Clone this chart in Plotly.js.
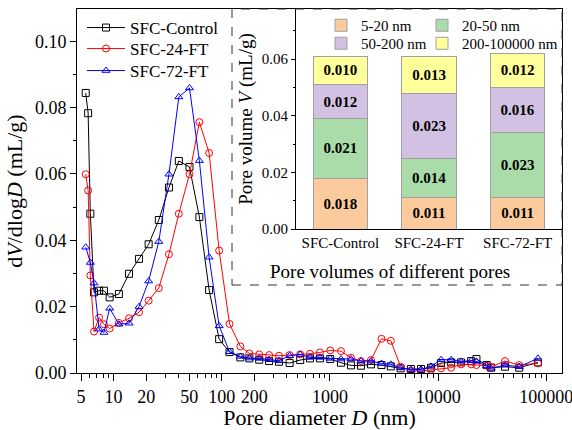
<!DOCTYPE html>
<html>
<head>
<meta charset="utf-8">
<script src="https://cdn.plot.ly/plotly-3.0.1.min.js"></script>
<style>html,body{margin:0;padding:0;background:#fff;}#chart{width:572px;height:430px;}</style>
</head>
<body>
<div id="chart"></div>
<script>
// ---- Pore size distribution (main plot) ----
var D_control = [5.53, 5.82, 6.1, 6.6, 7.35, 8.15, 9.2, 11.2, 13.9, 17.2, 21.1, 26.2, 32.5, 40.1, 50.3, 62.1, 76.4, 94.6,
  118, 148.6, 180, 222, 274, 338, 424, 531, 654, 808, 1006, 1265, 1565, 1936, 2396, 2996, 3654,
  4500, 5600, 6950, 8600, 10650, 13200, 16300, 20200, 22600, 28100, 30900, 41500, 56200, 83700];
var V_control = [0.0844, 0.0783, 0.0480, 0.0243, 0.0248, 0.0248, 0.0228, 0.0238, 0.0299, 0.0344, 0.0388, 0.0461, 0.0559, 0.0639, 0.0621, 0.0470, 0.0250, 0.0102,
  0.0063, 0.0047, 0.0044, 0.0040, 0.0036, 0.0034, 0.0030, 0.0039, 0.0044, 0.0044, 0.0042, 0.0031, 0.0023, 0.0022, 0.0026, 0.0024, 0.0020,
  0.0014, 0.0012, 0.0012, 0.0016, 0.0030, 0.0032, 0.0032, 0.0036, 0.0042, 0.0024, 0.0016, 0.0019, 0.0016, 0.0032];

var D_24 = [5.53, 5.82, 6.1, 6.6, 7.35, 8.15, 9.2, 11.2, 13.9, 17.2, 21.1, 26.2, 32.5, 40.1, 50.3, 62.1, 76.4, 94.6,
  118, 148.6, 180, 222, 274, 338, 424, 531, 654, 808, 1006, 1265, 1565, 1936, 2396, 2996, 3654,
  4500, 5600, 6950, 8600, 10650, 13200, 16300, 20200, 22600, 28100, 30900, 41500, 56200, 83700];
var V_24 = [0.0599, 0.0550, 0.0294, 0.0125, 0.0167, 0.0147, 0.0134, 0.0151, 0.0165, 0.0183, 0.0218, 0.0256, 0.0358, 0.0480, 0.0599, 0.0756, 0.0663, 0.0369,
  0.0148, 0.0080, 0.0059, 0.0056, 0.0054, 0.0052, 0.0054, 0.0056, 0.0058, 0.0062, 0.0068, 0.0066, 0.0046, 0.0036, 0.0039, 0.0103, 0.0097,
  0.0019, 0.0007, 0.0006, 0.0010, 0.0014, 0.0016, 0.0026, 0.0026, 0.0024, 0.0022, 0.0018, 0.0036, 0.0024, 0.0029];

var D_72 = [5.53, 6.1, 6.6, 7.35, 8.15, 9.2, 11.2, 13.9, 17.2, 21.1, 26.2, 32.5, 40.1, 50.3, 62.1, 76.4, 94.6,
  118, 148.6, 180, 222, 274, 338, 424, 531, 654, 808, 1006, 1265, 1565, 1936, 2396, 2996, 3654,
  4500, 5600, 6950, 8600, 10650, 13200, 16300, 20200, 22600, 28100, 30900, 41500, 56200, 83700];
var V_72 = [0.0379, 0.0333, 0.0271, 0.0132, 0.0122, 0.0195, 0.0147, 0.0150, 0.0200, 0.0277, 0.0396, 0.0599, 0.0832, 0.0859, 0.0640, 0.0349, 0.0142,
  0.0064, 0.0050, 0.0045, 0.0044, 0.0040, 0.0037, 0.0052, 0.0056, 0.0047, 0.0047, 0.0044, 0.0042, 0.0042, 0.0036, 0.0036, 0.0029, 0.0026,
  0.0016, 0.0010, 0.0011, 0.0020, 0.0040, 0.0040, 0.0035, 0.0037, 0.0035, 0.0022, 0.0014, 0.0024, 0.0019, 0.0044];

var seriesNames = ['SFC-Control', 'SFC-24-FT', 'SFC-72-FT'];
var xTickVals = [5, 10, 20, 50, 100, 200, 1000, 10000, 100000];
var xTickText = ['5', '10', '20', '50', '100', '200', '1000', '10000', '100000'];

// ---- Inset: pore volumes of different pores ----
var samples = ['SFC-Control', 'SFC-24-FT', 'SFC-72-FT'];
var poreRanges = ['5-20 nm', '20-50 nm', '50-200 nm', '200-100000 nm'];
var vol_5_20 = [0.018, 0.011, 0.011];
var vol_20_50 = [0.021, 0.014, 0.023];
var vol_50_200 = [0.012, 0.023, 0.016];
var vol_200_100000 = [0.010, 0.013, 0.012];

var FONT = 'Liberation Serif, Times New Roman, serif';

var lineStyles = [
  {color: '#000000', symbol: 'square-open'},
  {color: '#FF0000', symbol: 'circle-open'},
  {color: '#0000FF', symbol: 'triangle-up-open'}
];
var xs = [D_control, D_24, D_72];
var ys = [V_control, V_24, V_72];
var lineLegends = ['legend', 'legend6', 'legend7'];
var traces = [];
for (var i = 0; i < 3; i++) {
  traces.push({
    type: 'scatter', mode: 'lines+markers', name: seriesNames[i],
    x: xs[i], y: ys[i], xaxis: 'x', yaxis: 'y', legend: lineLegends[i],
    line: {color: lineStyles[i].color, width: 1},
    marker: {symbol: lineStyles[i].symbol, size: 7, color: lineStyles[i].color, line: {width: 1, color: lineStyles[i].color}},
    cliponaxis: true
  });
}

var barVals = [vol_5_20, vol_20_50, vol_50_200, vol_200_100000];
var barColors = ['#FBCB9E', '#AADCAA', '#D2C1E2', '#FFFF9C'];
var barLegends = ['legend2', 'legend3', 'legend4', 'legend5'];
for (var j = 0; j < 4; j++) {
  traces.push({
    type: 'bar', name: poreRanges[j], x: samples, y: barVals[j],
    xaxis: 'x2', yaxis: 'y2', legend: barLegends[j],
    marker: {color: barColors[j], line: {color: '#A0A0A0', width: 1}},
    text: barVals[j].map(function (v) { return '<b>' + v.toFixed(3) + '</b>'; }),
    textposition: 'inside', insidetextanchor: 'middle', constraintext: 'none',
    insidetextfont: {family: FONT, size: 15, color: '#000000'},
    hoverinfo: 'skip'
  });
}

// minor ticks for log axis (all integer multiples not labelled)
var minorX = [];
for (var k = 0; k <= 5; k++) {
  for (var d = 1; d <= 9; d++) {
    var v = d * Math.pow(10, k);
    if (v > 4.5 && v < 140000 && xTickVals.indexOf(v) < 0) minorX.push(v);
  }
}

var L = 77, R = 10, T = 9, B = 57, W = 572, H = 430;
var pw = W - L - R, ph = H - T - B;
function px2x(p) { return (p - L) / pw; }
function px2y(p) { return (H - B - p) / ph; }

function insetLegend(xp, yp) {
  return {
    orientation: 'h', x: px2x(xp), y: px2y(yp), xanchor: 'left', yanchor: 'top',
    bgcolor: 'rgba(0,0,0,0)', font: {family: FONT, size: 15}
  };
}
function lineLegend(yp) {
  return {
    x: px2x(82), y: px2y(yp), xanchor: 'left', yanchor: 'top',
    bgcolor: 'rgba(0,0,0,0)', borderwidth: 0, itemwidth: 38,
    font: {family: FONT, size: 17}
  };
}

var layout = {
  width: W, height: H,
  margin: {l: L, r: R, t: T, b: B, autoexpand: false},
  paper_bgcolor: '#ffffff', plot_bgcolor: '#ffffff',
  font: {family: FONT, color: '#000000', size: 18},
  showlegend: true,
  barmode: 'stack', bargap: 0.39,
  xaxis: {
    type: 'log', range: [0.662, 5.145], domain: [0, 1], anchor: 'y',
    tickmode: 'array', tickvals: xTickVals, ticktext: xTickText, tickangle: 0,
    ticklabeloverflow: 'allow',
    ticks: 'outside', ticklen: 7, tickwidth: 1, tickcolor: '#000',
    minor: {tickmode: 'array', tickvals: minorX, ticks: 'outside', ticklen: 4, tickwidth: 1, tickcolor: '#000', showgrid: false},
    showline: true, linecolor: '#000', linewidth: 1, mirror: true,
    showgrid: false, zeroline: false, automargin: false,
    tickfont: {family: FONT, size: 18},
    title: {text: 'Pore diameter <i>D</i> (nm)', font: {family: FONT, size: 22}, standoff: 8}
  },
  yaxis: {
    range: [0, 0.1097], domain: [0, 1], anchor: 'x',
    tickmode: 'linear', tick0: 0, dtick: 0.02, tickformat: '.2f',
    ticks: 'outside', ticklen: 6, tickwidth: 1, tickcolor: '#000',
    minor: {dtick: 0.01, ticks: 'outside', ticklen: 3, tickwidth: 1, tickcolor: '#000', showgrid: false},
    showline: true, linecolor: '#000', linewidth: 1, mirror: true,
    showgrid: false, zeroline: false, automargin: false,
    tickfont: {family: FONT, size: 18},
    title: {text: 'd<i>V</i>/dlog<i>D</i> (mL/g)', font: {family: FONT, size: 22}, standoff: 6}
  },
  xaxis2: {
    type: 'category', domain: [px2x(296), 1], anchor: 'y2', tickangle: 0,
    showline: true, linecolor: '#000', linewidth: 1, ticks: '',
    showgrid: false, zeroline: false, automargin: false,
    tickfont: {family: FONT, size: 15}
  },
  yaxis2: {
    range: [0, 0.0777], domain: [px2y(229), 1], anchor: 'x2',
    tickmode: 'linear', tick0: 0, dtick: 0.02, tickformat: '.2f',
    ticks: 'outside', ticklen: 4, tickwidth: 1, tickcolor: '#000',
    minor: {dtick: 0.01, ticks: 'outside', ticklen: 2, tickwidth: 1, tickcolor: '#000', showgrid: false},
    showline: true, linecolor: '#000', linewidth: 1,
    showgrid: false, zeroline: false, automargin: false,
    tickfont: {family: FONT, size: 15},
    title: {text: 'Pore volume <i>V</i> (mL/g)', font: {family: FONT, size: 19}, standoff: 4}
  },
  legend: lineLegend(10),
  legend6: lineLegend(31),
  legend7: lineLegend(53),
  legend2: insetLegend(321, 9),
  legend3: insetLegend(422, 9),
  legend4: insetLegend(321, 27),
  legend5: insetLegend(422, 27),
  shapes: [{
    type: 'rect', xref: 'paper', yref: 'paper',
    x0: px2x(232), x1: 1, y0: px2y(285), y1: 1,
    line: {color: '#333333', width: 1, dash: 'dash'}, fillcolor: 'rgba(0,0,0,0)', layer: 'above'
  }],
  annotations: [{
    text: 'Pore volumes of different pores', xref: 'paper', yref: 'paper',
    x: px2x(390), y: px2y(271), xanchor: 'center', yanchor: 'middle', showarrow: false,
    font: {family: FONT, size: 19, color: '#000'}
  }]
};

Plotly.newPlot('chart', traces, layout, {displayModeBar: false, staticPlot: true});
</script>
</body>
</html>
